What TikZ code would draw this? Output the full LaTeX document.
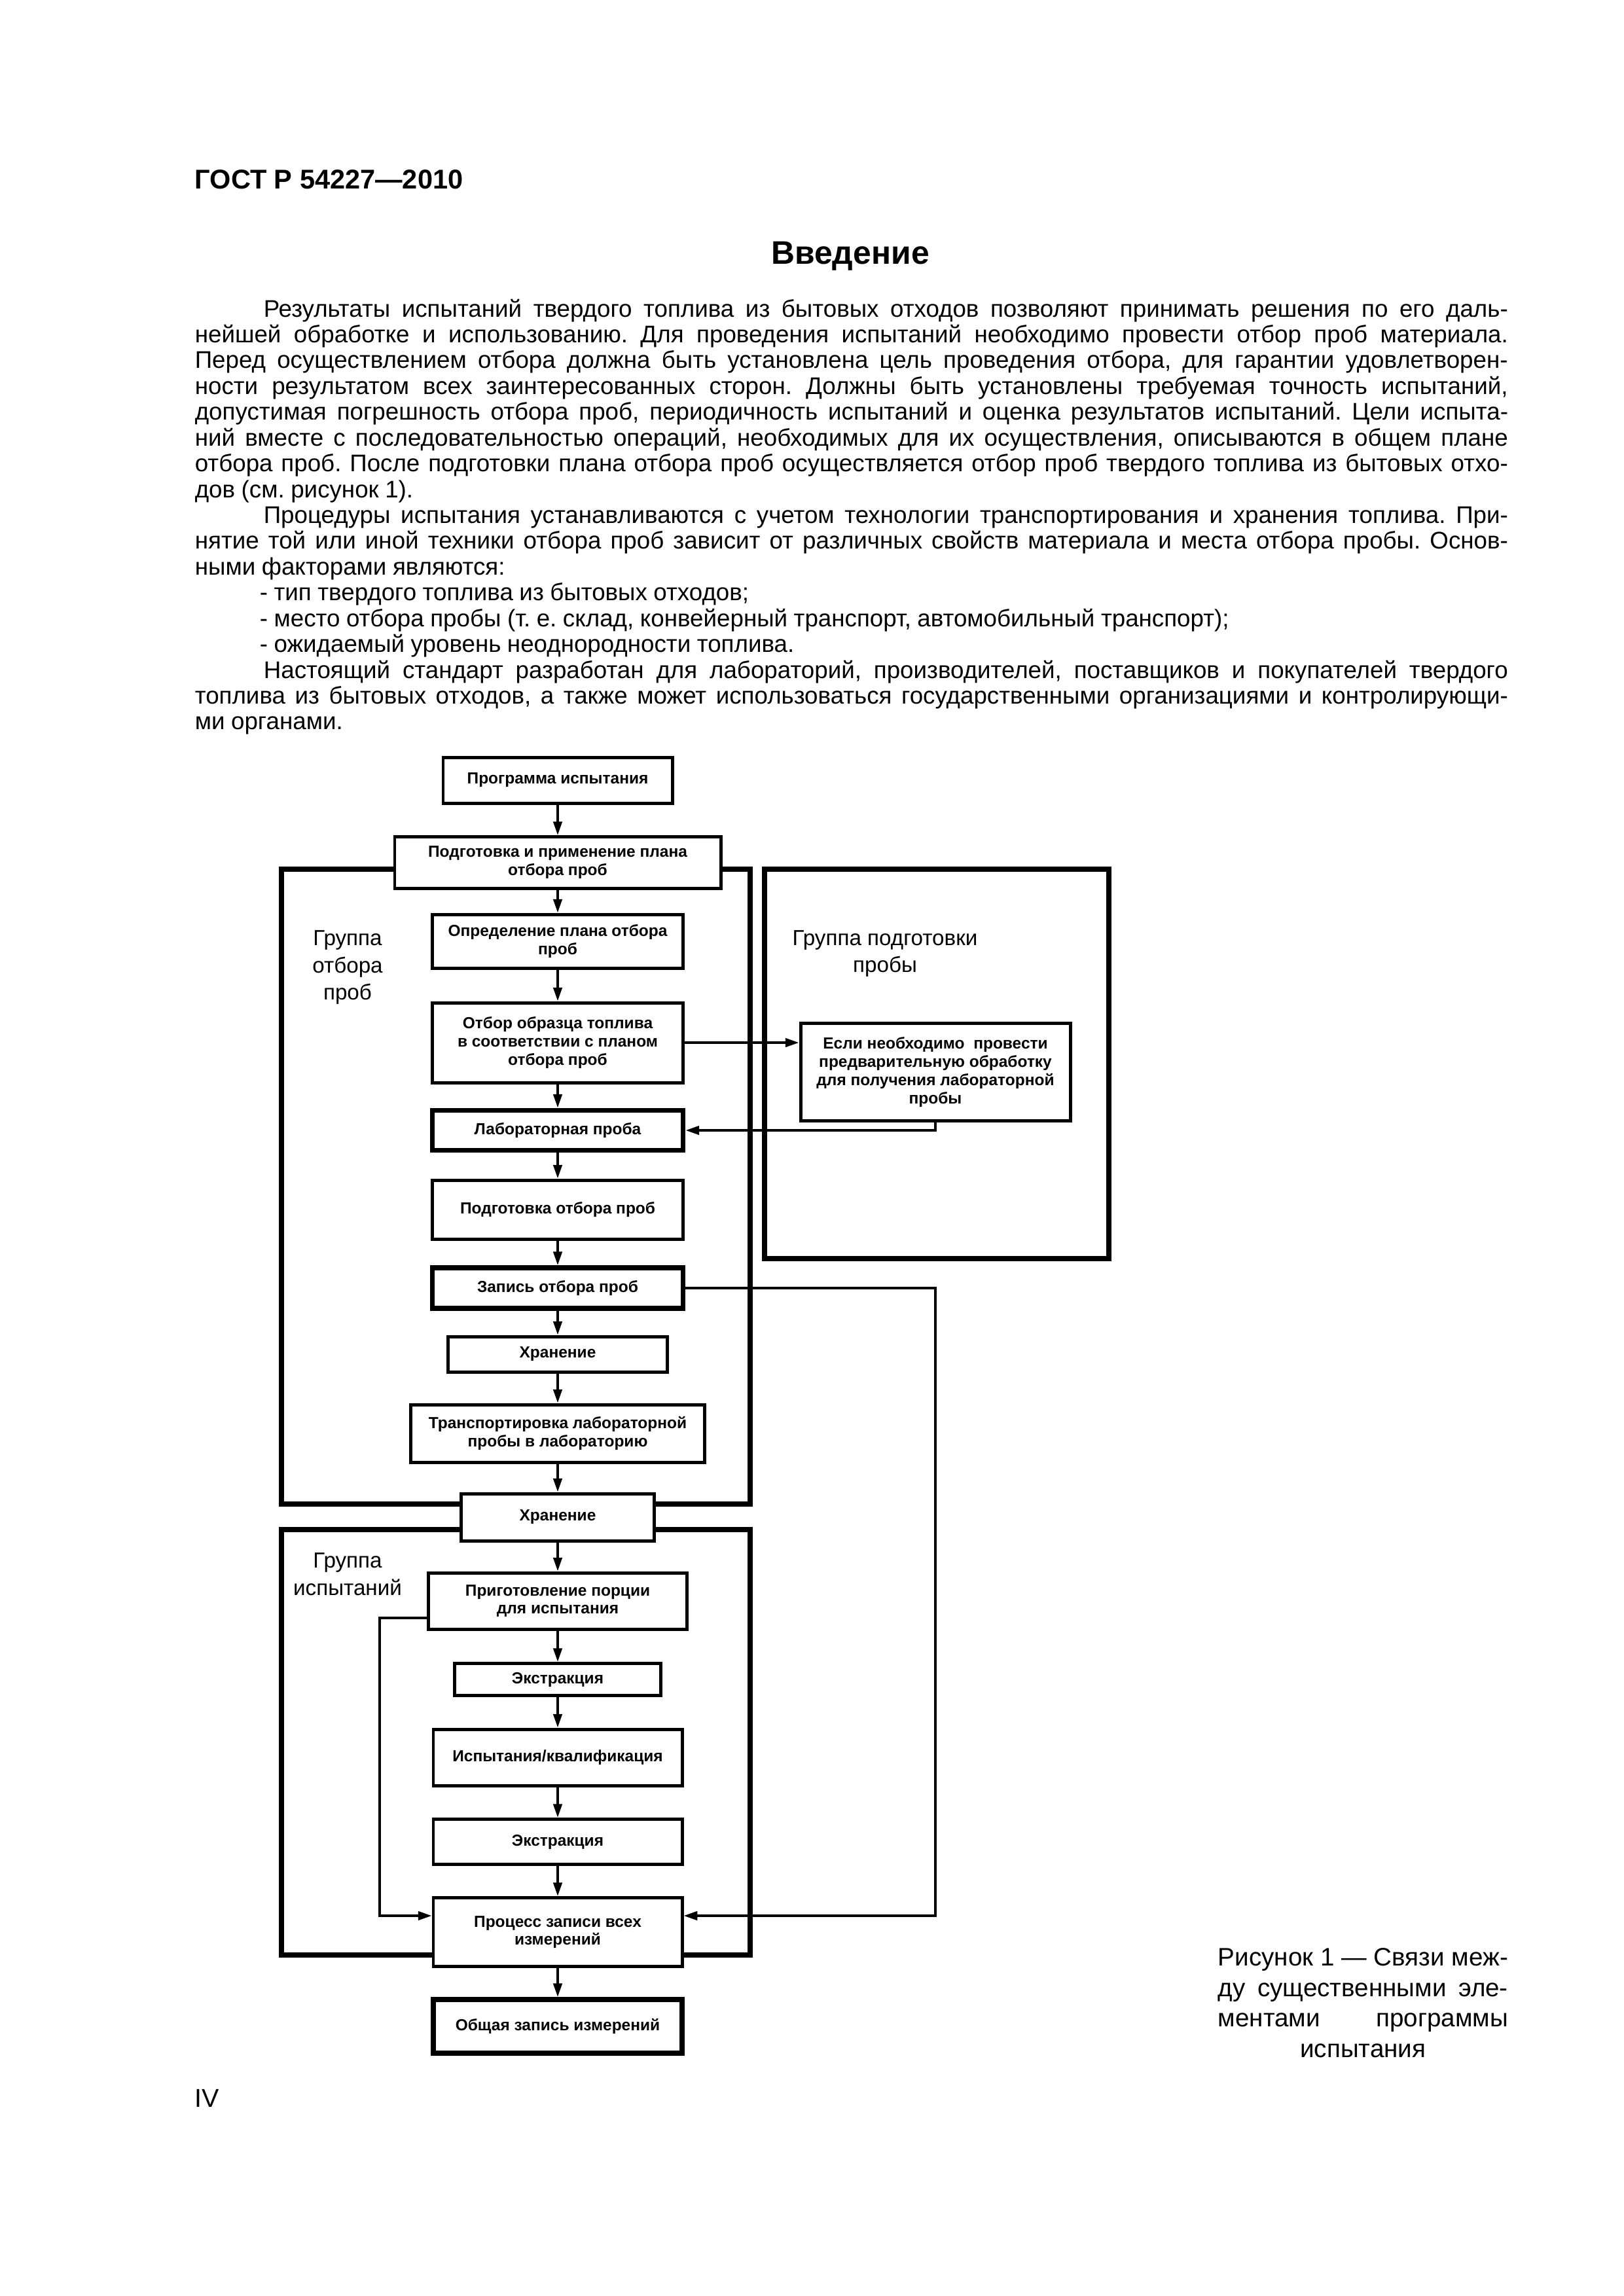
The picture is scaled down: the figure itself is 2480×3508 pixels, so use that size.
\documentclass[tikz,border=0pt]{standalone}
\usepackage{fontspec}
\setmainfont{Liberation Sans}
\usetikzlibrary{arrows.meta}
\newlength\pxu
\setlength\pxu{0.0084677cm}
\newcommand\jline[1]{\hbox to\hsize{#1}}
\newcommand\lastline[1]{\hbox to\hsize{#1\hfil}}
\newcommand\loosespaces{\spaceskip=.26em plus .5em minus .08em\relax}
\frenchspacing

\begin{document}
\begin{tikzpicture}[x=\pxu, y=-\pxu,
    stepbox/.style={draw, fill=white, line width=1.2pt, inner sep=0pt, align=center, font=\fontsize{5.9}{6.7}\selectfont\bfseries},
    keybox/.style={stepbox, line width=1.9pt},
    groupframe/.style={draw, line width=1.9pt},
    grouplabel/.style={align=center, inner sep=0pt, font=\fontsize{8}{10}\selectfont},
    flowarrow/.style={draw, line width=0.9pt, -{Triangle[length=5pt,width=3.2pt]}},
    bodytext/.style={anchor=north west, inner sep=0pt, text width=2006\pxu, font=\fontsize{8.85}{9.5}\selectfont},
    captiontext/.style={anchor=north west, inner sep=0pt, text width=443\pxu, font=\fontsize{9.3}{11.2}\selectfont}
]

\useasboundingbox (0,0) rectangle (2480,3508);
\fill[white] (0,0) rectangle (2480,3508);

\node[anchor=base west, inner sep=0pt, font=\fontsize{10}{12}\selectfont\bfseries] (gost) at (297,288) {ГОСТ Р 54227—2010};
\node[anchor=base, inner sep=0pt, font=\fontsize{12}{14}\selectfont\bfseries] (intro) at (1299,403) {Введение};

\node[bodytext] (introtext) at (297,456) {\loosespaces
\jline{\hspace*{105\pxu}Результаты испытаний твердого топлива из бытовых отходов позволяют принимать решения по его даль-}
\jline{нейшей обработке и использованию. Для проведения испытаний необходимо провести отбор проб материала.}
\jline{Перед осуществлением отбора должна быть установлена цель проведения отбора, для гарантии удовлетворен-}
\jline{ности результатом всех заинтересованных сторон. Должны быть установлены требуемая точность испытаний,}
\jline{допустимая погрешность отбора проб, периодичность испытаний и оценка результатов испытаний. Цели испыта-}
\jline{ний вместе с последовательностью операций, необходимых для их осуществления, описываются в общем плане}
\jline{отбора проб. После подготовки плана отбора проб осуществляется отбор проб твердого топлива из бытовых отхо-}
\lastline{дов (см. рисунок 1).}
\jline{\hspace*{105\pxu}Процедуры испытания устанавливаются с учетом технологии транспортирования и хранения топлива. При-}
\jline{нятие той или иной техники отбора проб зависит от различных свойств материала и места отбора пробы. Основ-}
\lastline{ными факторами являются:}
\lastline{\hspace*{99\pxu}- тип твердого топлива из бытовых отходов;}
\lastline{\hspace*{99\pxu}- место отбора пробы (т. е. склад, конвейерный транспорт, автомобильный транспорт);}
\lastline{\hspace*{99\pxu}- ожидаемый уровень неоднородности топлива.}
\jline{\hspace*{105\pxu}Настоящий стандарт разработан для лабораторий, производителей, поставщиков и покупателей твердого}
\jline{топлива из бытовых отходов, а также может использоваться государственными организациями и контролирующи-}
\lastline{ми органами.}};

\draw[groupframe] (430,1328) rectangle (1146,2298);
\draw[groupframe] (1168,1328) rectangle (1694,1923);
\draw[groupframe] (430,2337) rectangle (1146,2987);

\node[grouplabel] (samplinggroup) at (531,1478) {Группа\\отбора\\проб};
\node[grouplabel] (prepgroup) at (1352,1457) {Группа подготовки\\пробы};
\node[grouplabel] (testgroup) at (531,2405) {Группа\\испытаний};

\node[stepbox, minimum width=350\pxu, minimum height=70\pxu] (prog) at (852,1192) {Программа испытания};
\node[stepbox, minimum width=498\pxu, minimum height=79\pxu] (planprep) at (852,1318) {Подготовка и применение плана\\отбора проб};
\node[stepbox, minimum width=383\pxu, minimum height=82\pxu] (plandef) at (852,1438) {Определение плана отбора\\проб};
\node[stepbox, minimum width=383\pxu, minimum height=122\pxu] (sampling) at (852,1593) {Отбор образца топлива\\в соответствии с планом\\отбора проб};
\node[keybox, minimum width=383\pxu, minimum height=61\pxu] (labsample) at (852,1727) {Лабораторная проба};
\node[stepbox, minimum width=412\pxu, minimum height=149\pxu] (pretreat) at (1429,1638) {Если необходимо~ провести\\предварительную обработку\\для получения лабораторной\\пробы};
\node[stepbox, minimum width=383\pxu, minimum height=90\pxu] (sampleprep) at (852,1848) {Подготовка отбора проб};
\node[keybox, minimum width=383\pxu, minimum height=62\pxu] (samplerec) at (852,1968) {Запись отбора проб};
\node[stepbox, minimum width=335\pxu, minimum height=54\pxu] (storage) at (852,2069) {Хранение};
\node[stepbox, minimum width=449\pxu, minimum height=88\pxu] (transport) at (852,2190) {Транспортировка лабораторной\\пробы в лабораторию};
\node[stepbox, minimum width=295\pxu, minimum height=72\pxu] (storagelab) at (852,2318) {Хранение};
\node[stepbox, minimum width=395\pxu, minimum height=86\pxu] (portion) at (852,2446) {Приготовление порции\\для испытания};
\node[stepbox, minimum width=315\pxu, minimum height=49\pxu] (extraction) at (852,2566) {Экстракция};
\node[stepbox, minimum width=380\pxu, minimum height=86\pxu] (testing) at (852,2685) {Испытания/квалификация};
\node[stepbox, minimum width=380\pxu, minimum height=69\pxu] (extractionb) at (852,2814) {Экстракция};
\node[stepbox, minimum width=380\pxu, minimum height=105\pxu] (recording) at (852,2952) {Процесс записи всех\\измерений};
\node[keybox, minimum width=380\pxu, minimum height=82\pxu] (finalrec) at (852,3096) {Общая запись измерений};

\draw[flowarrow] (prog) -- (planprep);
\draw[flowarrow] (planprep) -- (plandef);
\draw[flowarrow] (plandef) -- (sampling);
\draw[flowarrow] (sampling) -- (labsample);
\draw[flowarrow] (labsample) -- (sampleprep);
\draw[flowarrow] (sampleprep) -- (samplerec);
\draw[flowarrow] (samplerec) -- (storage);
\draw[flowarrow] (storage) -- (transport);
\draw[flowarrow] (transport) -- (storagelab);
\draw[flowarrow] (storagelab) -- (portion);
\draw[flowarrow] (portion) -- (extraction);
\draw[flowarrow] (extraction) -- (testing);
\draw[flowarrow] (testing) -- (extractionb);
\draw[flowarrow] (extractionb) -- (recording);
\draw[flowarrow] (recording) -- (finalrec);

\draw[flowarrow] (sampling.east) -- (sampling.east -| pretreat.west);
\draw[flowarrow] (pretreat.south) |- (labsample.east);

\coordinate (recinR) at (recording.east |- 0,2927);
\coordinate (recinL) at (recording.west |- 0,2927);
\coordinate (portout) at (portion.west |- 0,2472);
\draw[flowarrow] (samplerec.east) -| (pretreat.south |- recinR) -- (recinR);
\draw[flowarrow] (portout) -- ++(-72,0) |- (recinL);

\node[captiontext] (caption) at (1860,2976) {\loosespaces
\jline{Рисунок 1 — Связи меж-}
\jline{ду существенными эле-}
\jline{ментами\hfill программы}
\hbox to\hsize{\hfil испытания\hfil}};

\node[anchor=base west, inner sep=0pt, font=\fontsize{9.5}{11}\selectfont] (folio) at (297,3219) {IV};

\end{tikzpicture}
\end{document}
